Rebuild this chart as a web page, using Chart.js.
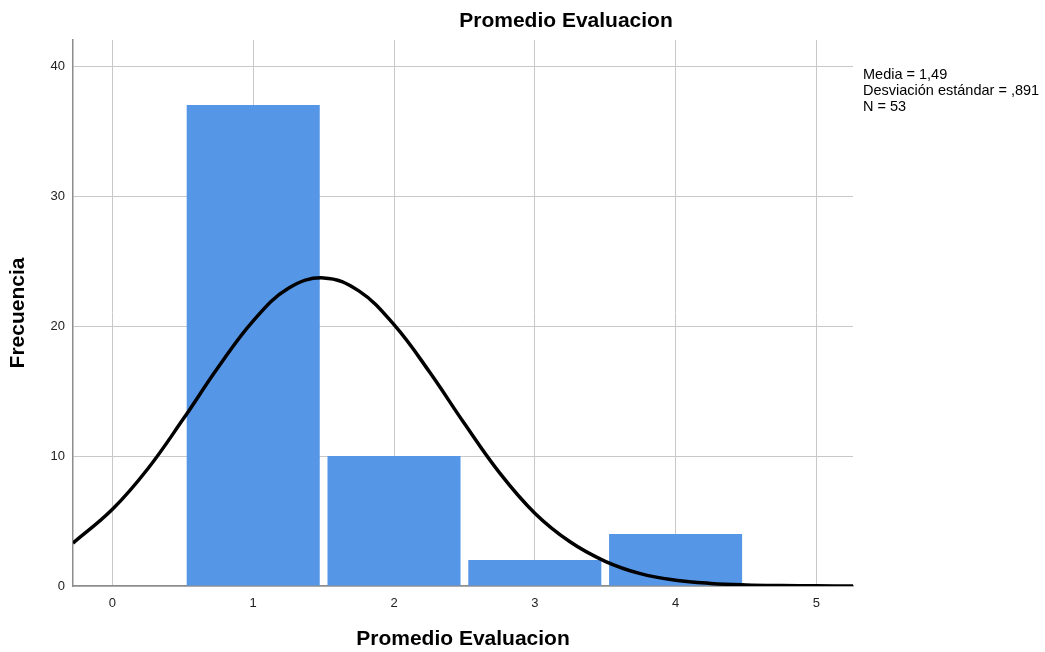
<!DOCTYPE html>
<html>
<head>
<meta charset="utf-8">
<script src="https://cdn.jsdelivr.net/npm/chart.js@4"></script>
<style>
  html, body { margin: 0; padding: 0; background: #fff; }
  #wrap { width: 1045px; height: 652px; }
</style>
</head>
<body>
<div id="wrap"><canvas id="histChart" width="1045" height="652"></canvas></div>
<script>
const binCenters = [1, 2, 3, 4];
const frequencies = [37, 10, 2, 4];

// normal curve
const curveX = [-0.28, 0, 0.25, 0.5, 0.75, 1, 1.25, 1.5, 1.75, 2, 2.25, 2.5, 2.75, 3, 3.25, 3.5, 3.75, 4, 4.25, 4.5, 4.75, 5, 5.26];
const curveY = [3.3, 5.9, 9.0, 12.8, 16.8, 20.4, 22.9, 23.7, 22.7, 20.1, 16.5, 12.5, 8.7, 5.6, 3.4, 1.9, 0.95, 0.45, 0.2, 0.08, 0.03, 0.01, 0];

const xTicks = [0, 1, 2, 3, 4, 5];
const yTicks = [0, 10, 20, 30, 40];

const chartTitle = "Promedio Evaluacion";
const xTitle = "Promedio Evaluacion";
const yTitle = "Frecuencia";
const statLines = ["Media = 1,49", "Desviación estándar = ,891", "N = 53"];

const FONT = "'Liberation Sans', Arial, sans-serif";

const textPlugin = {
  id: "spssText",
  afterDraw(chart) {
    const ctx = chart.ctx;
    ctx.save();
    ctx.fillStyle = "#000";
    ctx.textBaseline = "middle";
    ctx.textAlign = "center";
    ctx.font = "bold 21px " + FONT;
    ctx.fillText(chartTitle, 566, 21);

    ctx.textAlign = "left";
    ctx.font = "14.5px " + FONT;
    statLines.forEach((line, i) => {
      ctx.fillText(line, 863, 75 + i * 16);
    });
    ctx.restore();
  },
};

const ctx = document.getElementById("histChart").getContext("2d");

new Chart(ctx, {
  type: "bar",
  data: {
    datasets: [
      {
        type: "line",
        data: curveX.map((x, i) => ({ x: x, y: curveY[i] })),
        borderColor: "#000",
        borderWidth: 3.5,
        pointRadius: 0,
        tension: 0.4,
        fill: false,
        order: 1,
      },
      {
        type: "bar",
        data: binCenters.map((x, i) => ({ x: x, y: frequencies[i] })),
        backgroundColor: "#5596e6",
        borderWidth: 0,
        barPercentage: 0.945,
        categoryPercentage: 1,
        order: 2,
      },
    ],
  },
  options: {
    responsive: false,
    animation: false,
    layout: {
      padding: { top: 40, right: 192, left: 0, bottom: 0 },
    },
    plugins: {
      legend: { display: false },
      tooltip: { enabled: false },
    },
    scales: {
      x: {
        type: "linear",
        min: -0.28,
        max: 5.26,
        offset: false,
        afterFit(scale) { scale.height = 66; },
        afterBuildTicks(scale) { scale.ticks = xTicks.map(v => ({ value: v })); },
        grid: { color: "#c8c8c8", lineWidth: 1, drawTicks: false, offset: false },
        border: { color: "#8c8c8c", width: 1.5 },
        ticks: {
          color: "#222",
          font: { family: FONT, size: 13 },
          padding: 10,
          maxRotation: 0,
        },
        title: {
          display: true,
          text: xTitle,
          color: "#000",
          font: { family: FONT, size: 21, weight: "bold" },
          padding: { top: 0, bottom: 0 },
        },
      },
      y: {
        min: 0,
        max: 42,
        afterFit(scale) { scale.width = 73; },
        afterBuildTicks(scale) { scale.ticks = yTicks.map(v => ({ value: v })); },
        grid: { color: "#c8c8c8", lineWidth: 1, drawTicks: false },
        border: { color: "#8c8c8c", width: 1.5 },
        ticks: {
          color: "#222",
          font: { family: FONT, size: 13 },
          padding: 8,
        },
        title: {
          display: true,
          text: yTitle,
          color: "#000",
          font: { family: FONT, size: 21, weight: "bold" },
          padding: { top: 6, bottom: 0 },
        },
      },
    },
  },
  plugins: [textPlugin],
});
</script>
</body>
</html>
